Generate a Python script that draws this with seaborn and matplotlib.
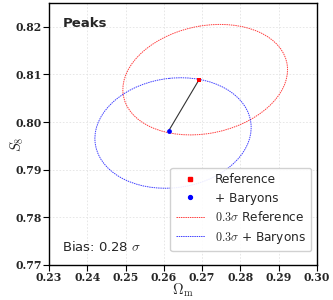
import numpy as np
import matplotlib
matplotlib.use("Agg")
import matplotlib.pyplot as plt
from matplotlib.patches import Ellipse
from matplotlib.lines import Line2D
import pandas as pd
import seaborn as sns

# fiducial points (Omega_m, S8)
labels = ["Reference", "+ Baryons"]
om = [0.2692, 0.2613]
s8 = [0.8089, 0.7982]
colors = ["red", "blue"]
markers = ["s", "o"]

# 0.3 sigma contours: centre, half-extent in x/y, correlation
ell_cx = [0.2708, 0.2624]
ell_cy = [0.8089, 0.7977]
ell_hx = [0.0215, 0.0204]
ell_hy = [0.0116, 0.0116]
ell_rho = [0.18, 0.10]

xticks = [0.23, 0.24, 0.25, 0.26, 0.27, 0.28, 0.29, 0.30]
yticks = [0.77, 0.78, 0.79, 0.80, 0.81, 0.82]
bias = 0.28

sns.set_style("whitegrid", {"grid.linestyle": (0, (2, 2)), "grid.color": "#e3e3e3",
                            "axes.edgecolor": "black", "xtick.bottom": True,
                            "ytick.left": True})
plt.rcParams["font.family"] = ["DejaVu Sans"]
plt.rcParams["mathtext.fontset"] = "cm"
plt.rcParams["grid.linewidth"] = 0.6

fig = plt.figure(figsize=(3.33, 3.0), dpi=100)
ax = fig.add_axes([0.147, 0.117, 0.805, 0.873])

df = pd.DataFrame({"om": om, "s8": s8, "lab": labels})
sns.lineplot(data=df, x="om", y="s8", color="#333333", lw=0.8, ax=ax, sort=False)

for i in range(2):
    cov = np.array([[ell_hx[i] ** 2, ell_rho[i] * ell_hx[i] * ell_hy[i]],
                    [ell_rho[i] * ell_hx[i] * ell_hy[i], ell_hy[i] ** 2]])
    vals, vecs = np.linalg.eigh(cov)
    ang = np.degrees(np.arctan2(vecs[1, 1], vecs[0, 1]))
    e = Ellipse((ell_cx[i], ell_cy[i]), 2 * np.sqrt(vals[1]), 2 * np.sqrt(vals[0]),
                angle=ang, fill=False, edgecolor=colors[i], lw=0.7,
                ls=(0, (1.5, 0.8)), alpha=0.75)
    ax.add_patch(e)

for i in range(2):
    sns.scatterplot(x=[om[i]], y=[s8[i]], color=colors[i], marker=markers[i],
                    s=12, linewidth=0, ax=ax, zorder=5)

ax.set_xlim(0.23, 0.30)
ax.set_ylim(0.77, 0.825)
ax.set_xticks(xticks)
ax.set_yticks(yticks)
tick_font = dict(family="DejaVu Serif", weight="bold", size=7.8)
ax.set_xticklabels(["%.2f" % t for t in xticks], fontdict=tick_font)
ax.set_yticklabels(["%.2f" % t for t in yticks], fontdict=tick_font)
ax.tick_params(axis="both", direction="out", length=4, width=0.8, color="black", pad=1)
for sp in ax.spines.values():
    sp.set_linewidth(1.0)
ax.set_xlabel(r"$\mathbf{\Omega_{\rm m}}$", fontsize=10.5, labelpad=-1)
ax.set_ylabel(r"$S_8$", fontsize=10.5)
ax.yaxis.set_label_coords(-0.085, 0.46)

ax.text(0.05, 0.92, "Peaks", transform=ax.transAxes, fontsize=9.5,
        fontweight="bold", va="center")
ax.text(0.05, 0.07, r"Bias: %.2f $\mathbf{\sigma}$" % bias,
        transform=ax.transAxes, fontsize=9.5, va="center")

handles = [
    Line2D([], [], color="red", marker="s", ls="none", markersize=2.8),
    Line2D([], [], color="blue", marker="o", ls="none", markersize=2.8),
    Line2D([], [], color="red", lw=0.7, ls=(0, (1.5, 0.8)), alpha=0.75),
    Line2D([], [], color="blue", lw=0.7, ls=(0, (1.5, 0.8)), alpha=0.75),
]
leg_labels = ["Reference", "+ Baryons",
              r"$\mathbf{0.3\sigma}$ Reference", r"$\mathbf{0.3\sigma}$ + Baryons"]
ax.legend(handles, leg_labels, loc="lower right", fontsize=8.7, frameon=True,
          handlelength=2.4, borderpad=0.45, labelspacing=0.45, framealpha=0.9,
          edgecolor="#cccccc", bbox_to_anchor=(1.0, 0.03))

fig.savefig("out.png", dpi=100)
